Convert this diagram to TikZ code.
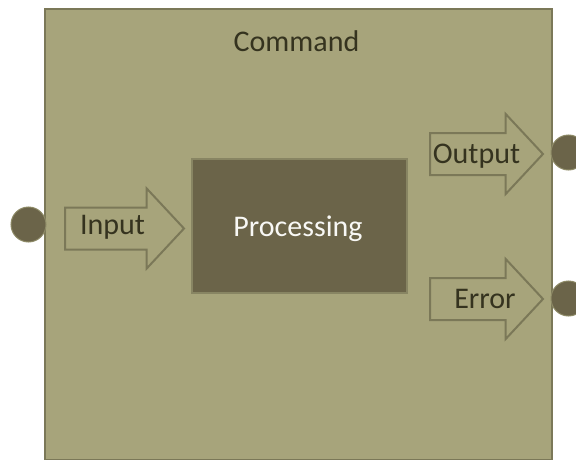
\documentclass[tikz,border=0pt]{standalone}
\usepackage{fontspec}
\setmainfont{Carlito}
\usepackage{tikz}
\usetikzlibrary{shapes.arrows,positioning}
\definecolor{olv}{HTML}{A7A47B}
\definecolor{olvd}{HTML}{7B7858}
\definecolor{brn}{HTML}{6B6449}
\definecolor{ink}{HTML}{35331F}
\tikzset{box/.style={draw=olvd,line width=2pt,fill=olv,inner sep=0pt,anchor=north west},
 proc/.style={draw=olvd!70!olv,line width=1.5pt,fill=brn,inner sep=0pt,anchor=north west},
 ar/.style={draw=olvd,line width=2pt,fill=olv,single arrow,inner xsep=0pt,inner ysep=20pt,single arrow head extend=19pt,single arrow tip angle=94,anchor=tail},
 port/.style={circle,draw=olvd!60!olv,line width=1pt,fill=brn,minimum size=35pt,inner sep=0pt},
 t/.style={font=\fontsize{30}{32}\selectfont,text=ink,anchor=base,inner sep=0pt}}
\begin{document}
\begin{tikzpicture}[x=1pt,y=-1pt]
\useasboundingbox (0,0) rectangle (576,460);
\node[box,minimum width=507pt,minimum height=451pt](cmd)at(44,8){};\node[t](ct)at(296.5,52){Command};
\node[proc,minimum width=215pt,minimum height=134pt](pr)at(191,158){};\node[t,text=white!92!olv](pt)at(298,236){Processing};
\node[ar,minimum height=119pt](in)at(64,228.5){};\node[t](it)at(112.5,234){Input};
\node[ar,minimum height=113pt](out)at(429,154){};\node[t](ot)at(476.5,163){Output};
\node[ar,minimum height=113pt](err)at(429,299){};\node[t](et)at(485,308){Error};
\node[port](pi)at(28.5,224.5){};\node[port](po)at(568.5,152.5){};\node[port](pe)at(568.5,298.5){};
\end{tikzpicture}
\end{document}
